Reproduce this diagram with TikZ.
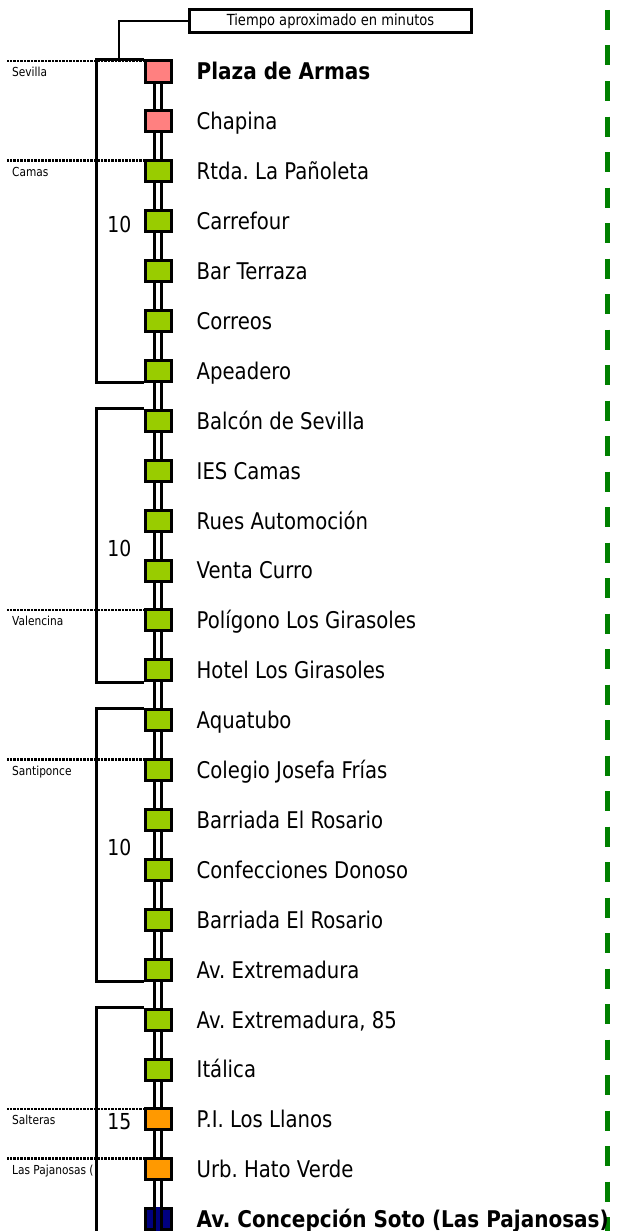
\documentclass[tikz,border=0pt]{standalone}
\usepackage{fontspec}
\setmainfont{DejaVu Sans}[FakeStretch=0.855]
\newfontfamily\negrita{DejaVu Sans}[FakeStretch=0.87]
\usepackage{tikz}
\usetikzlibrary{calc, positioning}
\frenchspacing
\definecolor{ROS}{HTML}{FF8080}
\definecolor{VER}{HTML}{99CC00}
\definecolor{NAR}{HTML}{FF9900}
\definecolor{AZU}{HTML}{000080}
\definecolor{LIN}{HTML}{008000}
\tikzset{
  PAR/.style={% Style for stop squares
      rectangle, line width=3pt,
      draw=black,
      minimum width=26pt,
      minimum height=21pt,
      inner sep=0pt,
  },
  NOM/.style={% Style for stop names
      anchor=west, inner sep=0pt,
      font=\fontsize{23pt}{23pt}\selectfont,
      text height=16.8pt,
          text depth=0pt,
  },
  NOMB/.style={% Style for terminal stops
      NOM,
      font=\fontsize{23pt}{23pt}\negrita\bfseries,
  },
  NUM/.style={% Style for minutes
      inner sep=0pt,
      font=\fontsize{22pt}{22pt}\selectfont,
      text height=16pt,
          text depth=0pt,
  },
  POB/.style={% Style for town names
      anchor=west, inner sep=0pt,
      font=\fontsize{12.4pt}{12.4pt}\selectfont,
      text height=9pt,
          text depth=0pt,
  },
  CAJA/.style={
      rectangle, line width=2.7pt, draw=black,
      minimum width=282pt, minimum height=23.5pt,
      inner sep=0pt,
      font=\fontsize{15.3pt}{15.3pt}\selectfont,
  },
  VIA/.style={line width=3.7pt, double=white, double distance=3.3pt},
  TRAMO/.style={line width=3pt, line join=miter},
  PUNT/.style={line width=2.8pt, dash pattern=on 2.2pt off 1.3pt},
  GUIA/.style={line width=1.2pt},
  LINEA/.style={draw=LIN, line width=5pt, dash pattern=on 20pt off 15.5pt},
}
\def\tramo#1#2{% bracket from stop #1 to stop #2
  \draw[TRAMO] (p#1.north west) -- ++(-47,0) |- (p#2.south west);
}

\begin{document}
\begin{tikzpicture}[x=1pt, y=-1pt]
    \useasboundingbox (0,0) rectangle (617,1231);
    \draw[LINEA] (607.5,10) -- (607.5,1240);
    % towns
    \foreach \pob/\n in {Sevilla/0, Camas/2, Valencina/11, Santiponce/14, Salteras/21, {Las Pajanosas (}/22} {%
      \draw[PUNT] (145,{61+49.9*\n}) -- ++(-138,0);
      \node[POB] (c\n) at (12,{72.5+49.9*\n}) {\pob};
    }
    \draw[VIA] (158,71.5) -- (158,1240);
    % stops
    \foreach \nom/\col/\est [count=\i from 0] in {
      Plaza de Armas/ROS/NOMB,
      Chapina/ROS/NOM,
      Rtda. La Pañoleta/VER/NOM,
      Carrefour/VER/NOM,
      Bar Terraza/VER/NOM,
      Correos/VER/NOM,
      Apeadero/VER/NOM,
      Balcón de Sevilla/VER/NOM,
      IES Camas/VER/NOM,
      Rues Automoción/VER/NOM,
      Venta Curro/VER/NOM,
      Polígono Los Girasoles/VER/NOM,
      Hotel Los Girasoles/VER/NOM,
      Aquatubo/VER/NOM,
      Colegio Josefa Frías/VER/NOM,
      Barriada El Rosario/VER/NOM,
      Confecciones Donoso/VER/NOM,
      Barriada El Rosario/VER/NOM,
      Av. Extremadura/VER/NOM,
      {Av. Extremadura, 85}/VER/NOM,
      Itálica/VER/NOM,
      P.I. Los Llanos/NAR/NOM,
      Urb. Hato Verde/NAR/NOM,
      Av. Concepción Soto (Las Pajanosas)/AZU/NOMB%
    } {%
      \node[PAR, fill=\col] (p\i) at (158,{71.5+49.9*\i}) {};
      \node[\est, right=24pt of p\i] (n\i) {\nom};
    }
    \draw[VIA, double=AZU] (p23.north) -- (p23.south);
    % brackets
    \tramo{0}{6}
    \tramo{7}{12}
    \tramo{13}{18}
    \draw[TRAMO] (p19.north west) -- ++(-47,0) -- ++(0,240);
    % minutes
    \coordinate (m2) at ($(p9.west)!.5!(p10.west)$);
    \coordinate (m3) at ($(p15.west)!.5!(p16.west)$);
    \node[NUM, left=12pt of p3, yshift=-3pt] (t1) {10};
    \node[NUM, left=12pt of m2, yshift=-3pt] (t2) {10};
    \node[NUM, left=12pt of m3, yshift=-3pt] (t3) {10};
    \node[NUM, left=12pt of p21, yshift=-2pt] (t4) {15};
    % legend
    \node[CAJA] (caja) at (330.5,21) {Tiempo aproximado en minutos};
    \coordinate (g) at (119,60);
    \draw[GUIA] (g) |- (caja.west);
\end{tikzpicture}
\end{document}
